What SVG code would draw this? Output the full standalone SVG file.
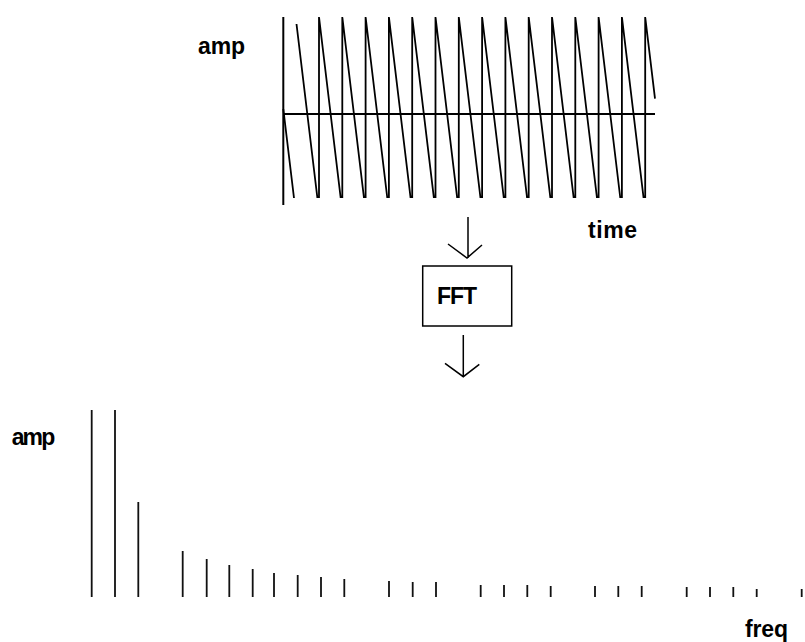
<svg xmlns="http://www.w3.org/2000/svg" width="805" height="642" viewBox="0 0 805 642">
<style>
.ln{stroke:#000;stroke-width:1.5;fill:none}
.ramp{stroke:#000;stroke-width:1.8;fill:none}
.ax{stroke:#000;stroke-width:2;fill:none}
.bar{stroke:#111;stroke-width:1.8}
.lbl{font-family:"Liberation Sans",Arial,sans-serif;font-weight:bold;font-size:23px;fill:#000}
</style>
<rect width="805" height="642" fill="#fff"/>
<g id="waveform">
<line class="ax" x1="283.3" y1="17" x2="283.3" y2="205"/>
<line class="ax" x1="283.3" y1="114" x2="655" y2="114"/>
<path class="ramp" d="M283.3,109 L294,198 M296.5,24 L317.4,198
M319,198 V17 L340.7,198
M342.3,198 V17 L364,198
M365.6,198 V17 L387.3,198
M388.9,198 V17 L410.6,198
M412.2,198 V17 L433.9,198
M435.5,198 V17 L457.2,198
M458.8,198 V17 L480.5,198
M482.1,198 V17 L503.8,198
M505.4,198 V17 L527.1,198
M528.7,198 V17 L550.4,198
M552,198 V17 L573.7,198
M575.3,198 V17 L597,198
M598.6,198 V17 L620.3,198
M621.9,198 V17 L643.6,198
M645.2,198 V17 L655,98.7"/>
</g>
<g id="label-amp-top"><text class="lbl" x="198" y="54" textLength="47">amp</text></g>
<g id="label-time"><text class="lbl" x="588" y="238" textLength="49">time</text></g>
<g id="fft">
<rect x="422.7" y="266" width="89" height="60" fill="none" stroke="#000" stroke-width="1.5"/>
<text class="lbl" x="437" y="304" font-size="22" textLength="40">FFT</text>
</g>
<g id="connectors">
<path class="ln" d="M468,217 V258 M448,244 L467,258 L482,245"/>
<path class="ln" d="M463.3,335 V376.7 M445,363.3 L463.3,376.7 L479.3,364.3"/>
</g>
<g id="spectrum">
<path class="bar" d="M91.7,597 V410 M115,597 V410 M138.3,597 V502 M182.7,597 V551 M206.7,597 V559 M229.3,597 V565 M252.7,597 V569 M274,597 V573 M297.7,597 V575 M321,597 V577 M344.3,597 V579 M389,597 V581 M412.7,597 V582 M436,597 V582 M480.7,597 V585 M504,597 V585 M527.3,597 V585 M550.7,597 V586 M595,597 V586 M618.3,597 V586 M641.7,597 V586 M686.7,597 V587 M710,597 V587 M733.3,597 V587 M756.7,597 V589 M801.7,597 V589"/>
</g>
<g id="label-amp-bottom"><text class="lbl" x="11.7" y="445" textLength="43.5">amp</text></g>
<g id="label-freq"><text class="lbl" x="745" y="637" textLength="43">freq</text></g>
</svg>
